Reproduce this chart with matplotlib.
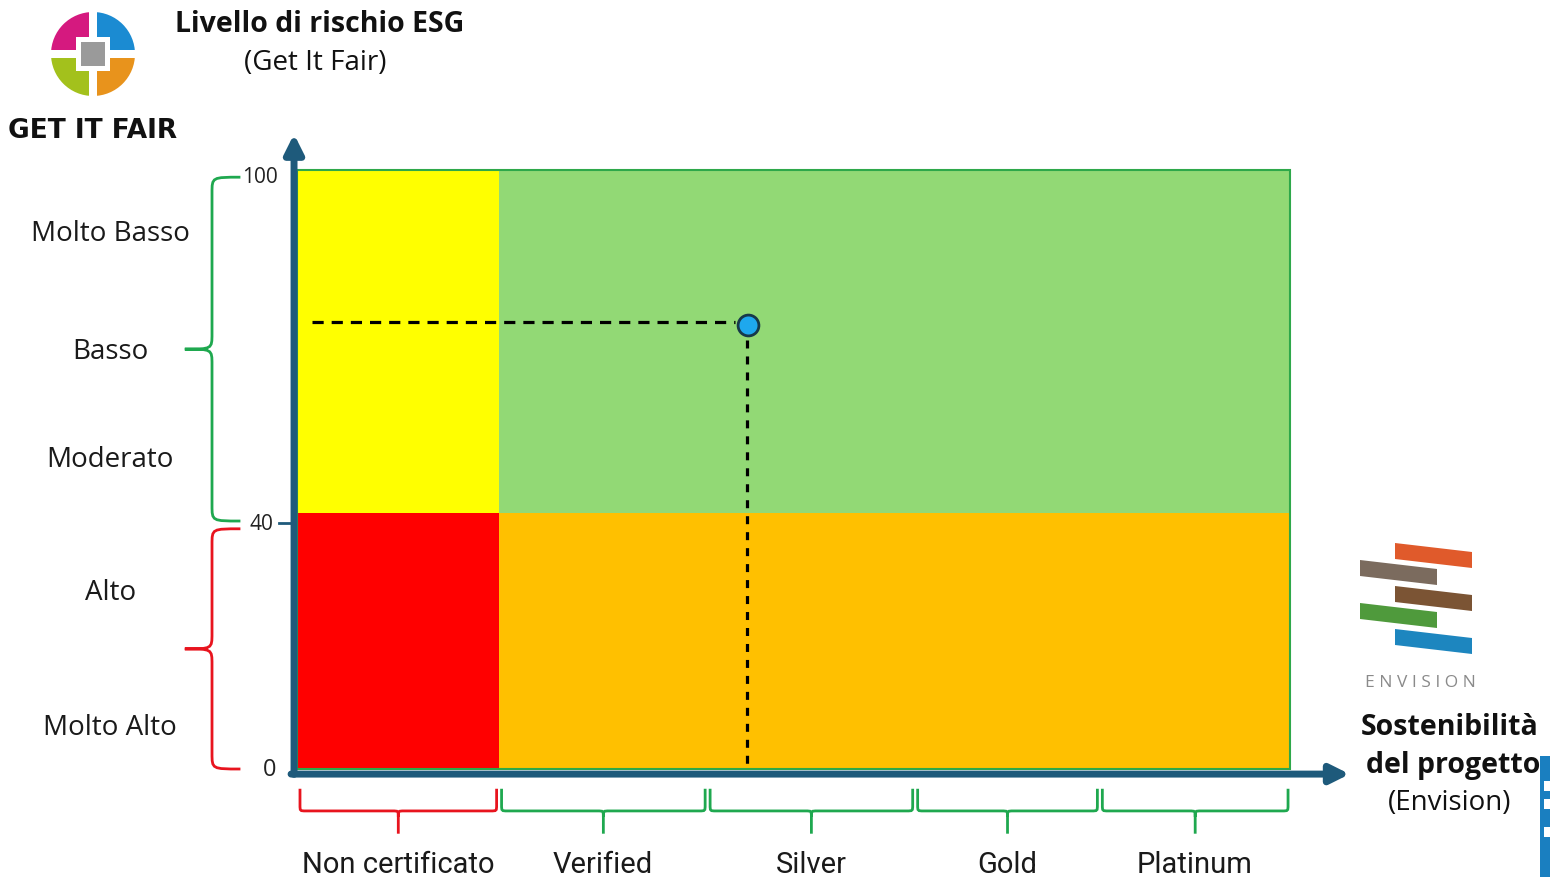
import matplotlib
matplotlib.use("Agg")
import matplotlib.pyplot as plt
from matplotlib.path import Path
from matplotlib.patches import PathPatch, Rectangle, Wedge, Polygon

# risk bands on the y axis (score 0-100)
risk_split = 42.8
risk_levels = ["Molto Alto", "Alto", "Moderato", "Basso", "Molto Basso"]
risk_label_y = [7, 29.5, 51.8, 69.8, 89.5]
y_tick_labels = ["0", "40", "100"]
y_tick_pos = [0, 41, 99]

# Envision certification levels on the x axis
cert_levels = ["Non certificato", "Verified", "Silver", "Gold", "Platinum"]
cert_bounds = [0, 20.3, 41.3, 62.2, 80.8, 100]

# the project being rated
project_x = 45.4
project_y = 74.2

AXIS_BLUE = "#1e5a7b"
GREEN = "#1fa84f"
RED = "#e8141e"

plt.rcParams['font.family'] = ['Open Sans', 'DejaVu Sans']

fig = plt.figure(figsize=(15.5, 8.78), dpi=100)
ax = fig.add_axes([0, 0, 1, 1])
ax.set_xlim(-29.91, 126.18)
ax.set_ylim(-18.03, 128.55)
ax.axis('off')

# quadrants
split = cert_bounds[1]
ax.add_patch(Rectangle((0, risk_split), split, 100 - risk_split, color="#ffff00", lw=0))
ax.add_patch(Rectangle((0, 0), split, risk_split, color="#ff0000", lw=0))
ax.add_patch(Rectangle((split, risk_split), 100 - split, 100 - risk_split, color="#92d975", lw=0))
ax.add_patch(Rectangle((split, 0), 100 - split, risk_split, color="#ffc000", lw=0))
ax.add_patch(Rectangle((0, 0), 100, 100, fill=False, ec="#2ea84a", lw=1.5))

# axes arrows
ax.annotate('', xy=(-0.3, 106.0), xytext=(-0.3, -0.9),
            arrowprops=dict(arrowstyle='-|>', lw=5, color=AXIS_BLUE, mutation_scale=28, shrinkA=0, shrinkB=0))
ax.annotate('', xy=(106.0, -0.85), xytext=(-0.6, -0.85),
            arrowprops=dict(arrowstyle='-|>', lw=5, color=AXIS_BLUE, mutation_scale=28, shrinkA=0, shrinkB=0))

# tick labels
tick_x = [-2.1, -2.4, -1.9]
tick_size = [17, 15, 15]
for lab, y, x, fs in zip(y_tick_labels, y_tick_pos, tick_x, tick_size):
    ax.text(x, y, lab, ha='right', va='center', fontsize=fs, color="#222222")
ax.plot([-1.8, -0.6], [y_tick_pos[1], y_tick_pos[1]], color=AXIS_BLUE, lw=2)

# reference lines to the project point
ax.plot([1.5, project_x - 1.3], [project_y + 0.5, project_y + 0.5], color='black', lw=2.3, ls=(0, (3.5, 2.5)))
ax.plot([project_x - 0.1, project_x - 0.1], [project_y - 2.5, -0.8], color='black', lw=2.3, ls=(0, (2.5, 2.5)))
ax.plot([project_x], [project_y], marker='o', ms=15, mfc="#1ea8ee", mec="#16394a", mew=2)

P = Path


def vbrace(y_bot, y_top, color, x_spine=-8.56, x_end=-5.7, x_tip=-11.3, r=2.6):
    mid = (y_bot + y_top) / 2
    verts = [(x_end, y_top), (x_spine, y_top), (x_spine, y_top), (x_spine, y_top - r),
             (x_spine, mid + r),
             (x_spine, mid), (x_spine, mid), (x_tip, mid),
             (x_spine, mid), (x_spine, mid), (x_spine, mid - r),
             (x_spine, y_bot + r),
             (x_spine, y_bot), (x_spine, y_bot), (x_end, y_bot)]
    codes = [P.MOVETO, P.CURVE4, P.CURVE4, P.CURVE4, P.LINETO,
             P.CURVE4, P.CURVE4, P.CURVE4, P.CURVE4, P.CURVE4, P.CURVE4,
             P.LINETO, P.CURVE4, P.CURVE4, P.CURVE4]
    ax.add_patch(PathPatch(Path(verts, codes), fill=False, ec=color, lw=2, clip_on=False))


def hbrace(x0, x1, color, y_end=-3.3, y_bar=-7.0, y_tip=-10.8, rx=0.6, ry=1.0):
    mid = (x0 + x1) / 2
    verts = [(x0, y_end), (x0, y_bar + ry),
             (x0, y_bar), (x0, y_bar), (x0 + rx, y_bar),
             (mid - rx, y_bar),
             (mid, y_bar), (mid, y_bar), (mid, y_bar - ry),
             (mid, y_tip),
             (mid, y_bar - ry), (mid, y_bar), (mid, y_bar), (mid + rx, y_bar),
             (x1 - rx, y_bar),
             (x1, y_bar), (x1, y_bar), (x1, y_bar + ry),
             (x1, y_end)]
    codes = [P.MOVETO, P.LINETO, P.CURVE4, P.CURVE4, P.CURVE4, P.LINETO,
             P.CURVE4, P.CURVE4, P.CURVE4, P.LINETO,
             P.MOVETO, P.CURVE4, P.CURVE4, P.CURVE4, P.LINETO,
             P.CURVE4, P.CURVE4, P.CURVE4, P.LINETO]
    ax.add_patch(PathPatch(Path(verts, codes), fill=False, ec=color, lw=2, clip_on=False))


vbrace(41.4, 98.8, GREEN)
vbrace(0, 40.1, RED)

for lab, y in zip(risk_levels, risk_label_y):
    ax.text(-18.8, y, lab, ha='center', va='center', fontsize=20, color="#1a1a1a")

for i, lab in enumerate(cert_levels):
    x0, x1 = cert_bounds[i], cert_bounds[i + 1]
    hbrace(x0 + 0.3, x1 - 0.2, RED if i == 0 else GREEN)
    ax.text((x0 + x1) / 2, -15.8, lab, ha='center', va='center', fontsize=21, color="#1a1a1a",
            family=['Roboto', 'DejaVu Sans'])

# overlay in pixel units for logos and headings
deco = fig.add_axes([0, 0, 1, 1])
deco.set_xlim(0, 1550)
deco.set_ylim(878, 0)
deco.axis('off')
deco.patch.set_alpha(0)

# Get It Fair logo (y runs downward here, so angles are mirrored)
cx, cy, R = 93, 55, 42
for (t1, t2), c in zip([(180, 270), (270, 360), (90, 180), (0, 90)],
                       ["#d5197f", "#1b8bd2", "#a3c11c", "#e8931c"]):
    deco.add_patch(Wedge((cx, cy), R, t1, t2, color=c, lw=0))
deco.add_patch(Rectangle((cx - 4, cy - R - 1), 8, 2 * R + 2, color='white', lw=0))
deco.add_patch(Rectangle((cx - R - 1, cy - 4), 2 * R + 2, 8, color='white', lw=0))
deco.add_patch(Rectangle((cx - 17, cy - 17), 34, 34, color='white', lw=0))
deco.add_patch(Rectangle((cx - 12, cy - 12), 24, 24, color="#9a9a9a", lw=0))
deco.text(93, 131, "GET IT FAIR", ha='center', va='center', fontsize=19, fontweight='heavy',
          family=['DejaVu Sans'], color="#111111")

deco.text(320, 25, "Livello di rischio ESG", ha='center', va='center', fontsize=20.5, fontweight='bold', color="#111111")
deco.text(315, 63, "(Get It Fair)", ha='center', va='center', fontsize=20, color="#111111")

# Envision logo
bars = [(1395, 544, "#e05a2b"), (1360, 561, "#7b6b5e"), (1395, 587, "#7b5434"),
        (1360, 604, "#4f9a3c"), (1395, 630, "#1d86bf")]
for bx, by, c in bars:
    deco.add_patch(Polygon([(bx, by), (bx + 77, by + 9), (bx + 77, by + 25), (bx, by + 16)], color=c, lw=0))
deco.text(1420, 683, "E N V I S I O N", ha='center', va='center', fontsize=12.5, color="#8a8a8a")

deco.text(1450, 728, "Sostenibilità", ha='center', va='center', fontsize=20.5, fontweight='bold', color="#111111")
deco.text(1453, 766, "del progetto", ha='center', va='center', fontsize=20.5, fontweight='bold', color="#111111")
deco.text(1450, 803, "(Envision)", ha='center', va='center', fontsize=20, color="#111111")

# slide edge
deco.add_patch(Rectangle((1540, 757), 12, 125, color="#1a7fc0", lw=0))
for fy in (782, 800, 828):
    deco.add_patch(Rectangle((1544, fy), 6, 10, color='white', lw=0))

fig.savefig("out.png", dpi=100)
